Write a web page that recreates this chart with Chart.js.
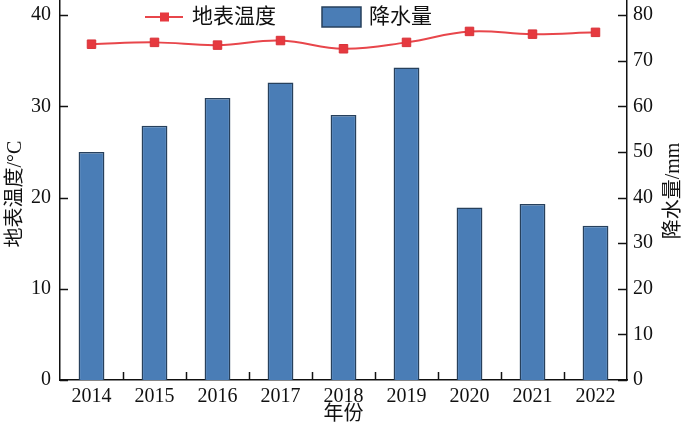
<!DOCTYPE html>
<html>
<head>
<meta charset="utf-8">
<script src="https://cdn.jsdelivr.net/npm/chart.js@4"></script>
<style>
  html, body { margin: 0; padding: 0; background: #ffffff; }
  #wrap { width: 686px; height: 428px; position: relative; overflow: hidden; }
  #c { position: absolute; left: 0; top: -7px; }
</style>
</head>
<body>
<div id="wrap"><canvas id="c" width="686" height="435"></canvas></div>
<script>
// ---- data ----
const categories = ['2014', '2015', '2016', '2017', '2018', '2019', '2020', '2021', '2022'];
const temperature = [36.8, 37.0, 36.7, 37.2, 36.3, 37.0, 38.2, 37.9, 38.1];   // 地表温度 / °C
const precipitation = [50.0, 55.7, 61.8, 65.2, 58.1, 68.5, 37.8, 38.6, 33.8]; // 降水量 / mm
const leftTicks = [0, 10, 20, 30, 40];
const rightTicks = [0, 10, 20, 30, 40, 50, 60, 70, 80];
const seriesNames = ['地表温度', '降水量'];
const axisTitles = { x: '年份', left: '地表温度/°C', right: '降水量/mm' };

// ---- style ----
const SERIF = "'Liberation Serif', 'Noto Sans CJK SC', serif";
const LINE_RED = '#e8464b';
const MARK_RED = '#e6393f';
const BAR_BLUE = '#4a7db6';
const BAR_EDGE = '#27405c';
const AXIS = '#111111';
const SHIFT = 7; // canvas is shifted up by this many px so the plot top meets the page top

const decor = {
  id: 'decor',
  afterDraw(chart) {
    const ctx = chart.ctx;
    const ca = chart.chartArea;
    const sx = chart.scales.x, sy = chart.scales.y, sy1 = chart.scales.y1;
    ctx.save();
    ctx.strokeStyle = AXIS;
    ctx.lineWidth = 1.5;
    leftTicks.forEach(v => {
      const y = Math.round(sy.getPixelForValue(v)) + 0.5;
      ctx.beginPath(); ctx.moveTo(ca.left, y); ctx.lineTo(ca.left + 8, y); ctx.stroke();
    });
    rightTicks.forEach(v => {
      const y = Math.round(sy1.getPixelForValue(v)) + 0.5;
      ctx.beginPath(); ctx.moveTo(ca.right, y); ctx.lineTo(ca.right - 9, y); ctx.stroke();
    });
    for (let i = 0; i < categories.length - 1; i++) {
      const x = Math.round((sx.getPixelForValue(i) + sx.getPixelForValue(i + 1)) / 2) + 0.5;
      ctx.beginPath(); ctx.moveTo(x, ca.bottom); ctx.lineTo(x, ca.bottom - 8); ctx.stroke();
    }

    ctx.translate(0, SHIFT);
    ctx.fillStyle = '#111';
    ctx.font = "20px " + SERIF;
    ctx.textAlign = 'center';
    ctx.textBaseline = 'middle';
    ctx.fillText(axisTitles.x, (ca.left + ca.right) / 2, 415);
    ctx.save();
    ctx.translate(16, 194);
    ctx.rotate(-Math.PI / 2);
    ctx.fillText(axisTitles.left, 0, 0);
    ctx.restore();
    ctx.save();
    ctx.translate(674, 191);
    ctx.rotate(-Math.PI / 2);
    ctx.fillText(axisTitles.right, 0, 0);
    ctx.restore();

    const ly = 17;
    ctx.strokeStyle = LINE_RED;
    ctx.lineWidth = 2;
    ctx.beginPath(); ctx.moveTo(145, ly); ctx.lineTo(183, ly); ctx.stroke();
    ctx.fillStyle = MARK_RED;
    ctx.fillRect(160, ly - 4.5, 9, 9);
    ctx.fillStyle = BAR_BLUE;
    ctx.strokeStyle = BAR_EDGE;
    ctx.lineWidth = 1.5;
    ctx.fillRect(322, 7, 39, 20);
    ctx.strokeRect(322, 7, 39, 20);
    ctx.fillStyle = '#111';
    ctx.font = "21px " + SERIF;
    ctx.textAlign = 'left';
    ctx.fillText(seriesNames[0], 192, ly);
    ctx.fillText(seriesNames[1], 369, ly);
    ctx.restore();
  }
};

const setTicks = list => s => { s.ticks = list.map(v => ({ value: v })); };

new Chart(document.getElementById('c'), {
  data: {
    labels: categories,
    datasets: [
      {
        type: 'line',
        label: seriesNames[0],
        data: temperature,
        yAxisID: 'y',
        borderColor: LINE_RED,
        borderWidth: 2,
        tension: 0.4,
        pointStyle: 'rect',
        pointRadius: 6,
        pointBackgroundColor: MARK_RED,
        pointBorderColor: '#d8333a',
        pointBorderWidth: 1,
        order: 0
      },
      {
        type: 'bar',
        label: seriesNames[1],
        data: precipitation,
        yAxisID: 'y1',
        backgroundColor: BAR_BLUE,
        borderColor: BAR_EDGE,
        borderWidth: 1.5,
        borderSkipped: 'bottom',
        categoryPercentage: 1.0,
        barPercentage: 0.41,
        order: 1
      }
    ]
  },
  options: {
    responsive: false,
    animation: false,
    events: [],
    layout: { padding: 0 },
    plugins: { legend: { display: false }, tooltip: { enabled: false } },
    scales: {
      x: {
        offset: true,
        grid: { display: false, drawTicks: false },
        border: { display: true, color: AXIS, width: 1.5 },
        ticks: { color: '#111', font: { family: SERIF, size: 20 }, padding: 5, maxRotation: 0, autoSkip: false },
        afterFit: s => { s.height = 48; s.paddingLeft = 0; s.paddingRight = 0; }
      },
      y: {
        position: 'left',
        min: 0,
        max: 40 * 380 / 365,
        grid: { display: false, drawTicks: false },
        border: { display: true, color: AXIS, width: 1.5 },
        ticks: { color: '#111', font: { family: SERIF, size: 20 }, padding: 9, autoSkip: false },
        afterBuildTicks: setTicks(leftTicks),
        afterFit: s => { s.width = 60; s.paddingTop = 0; s.paddingBottom = 0; }
      },
      y1: {
        position: 'right',
        min: 0,
        max: 80 * 380 / 365,
        grid: { display: false, drawTicks: false },
        border: { display: true, color: AXIS, width: 1.5 },
        ticks: { color: '#111', font: { family: SERIF, size: 20 }, padding: 6, autoSkip: false },
        afterBuildTicks: setTicks(rightTicks),
        afterFit: s => { s.width = 59; s.paddingTop = 0; s.paddingBottom = 0; }
      }
    }
  },
  plugins: [decor]
});
</script>
</body>
</html>
